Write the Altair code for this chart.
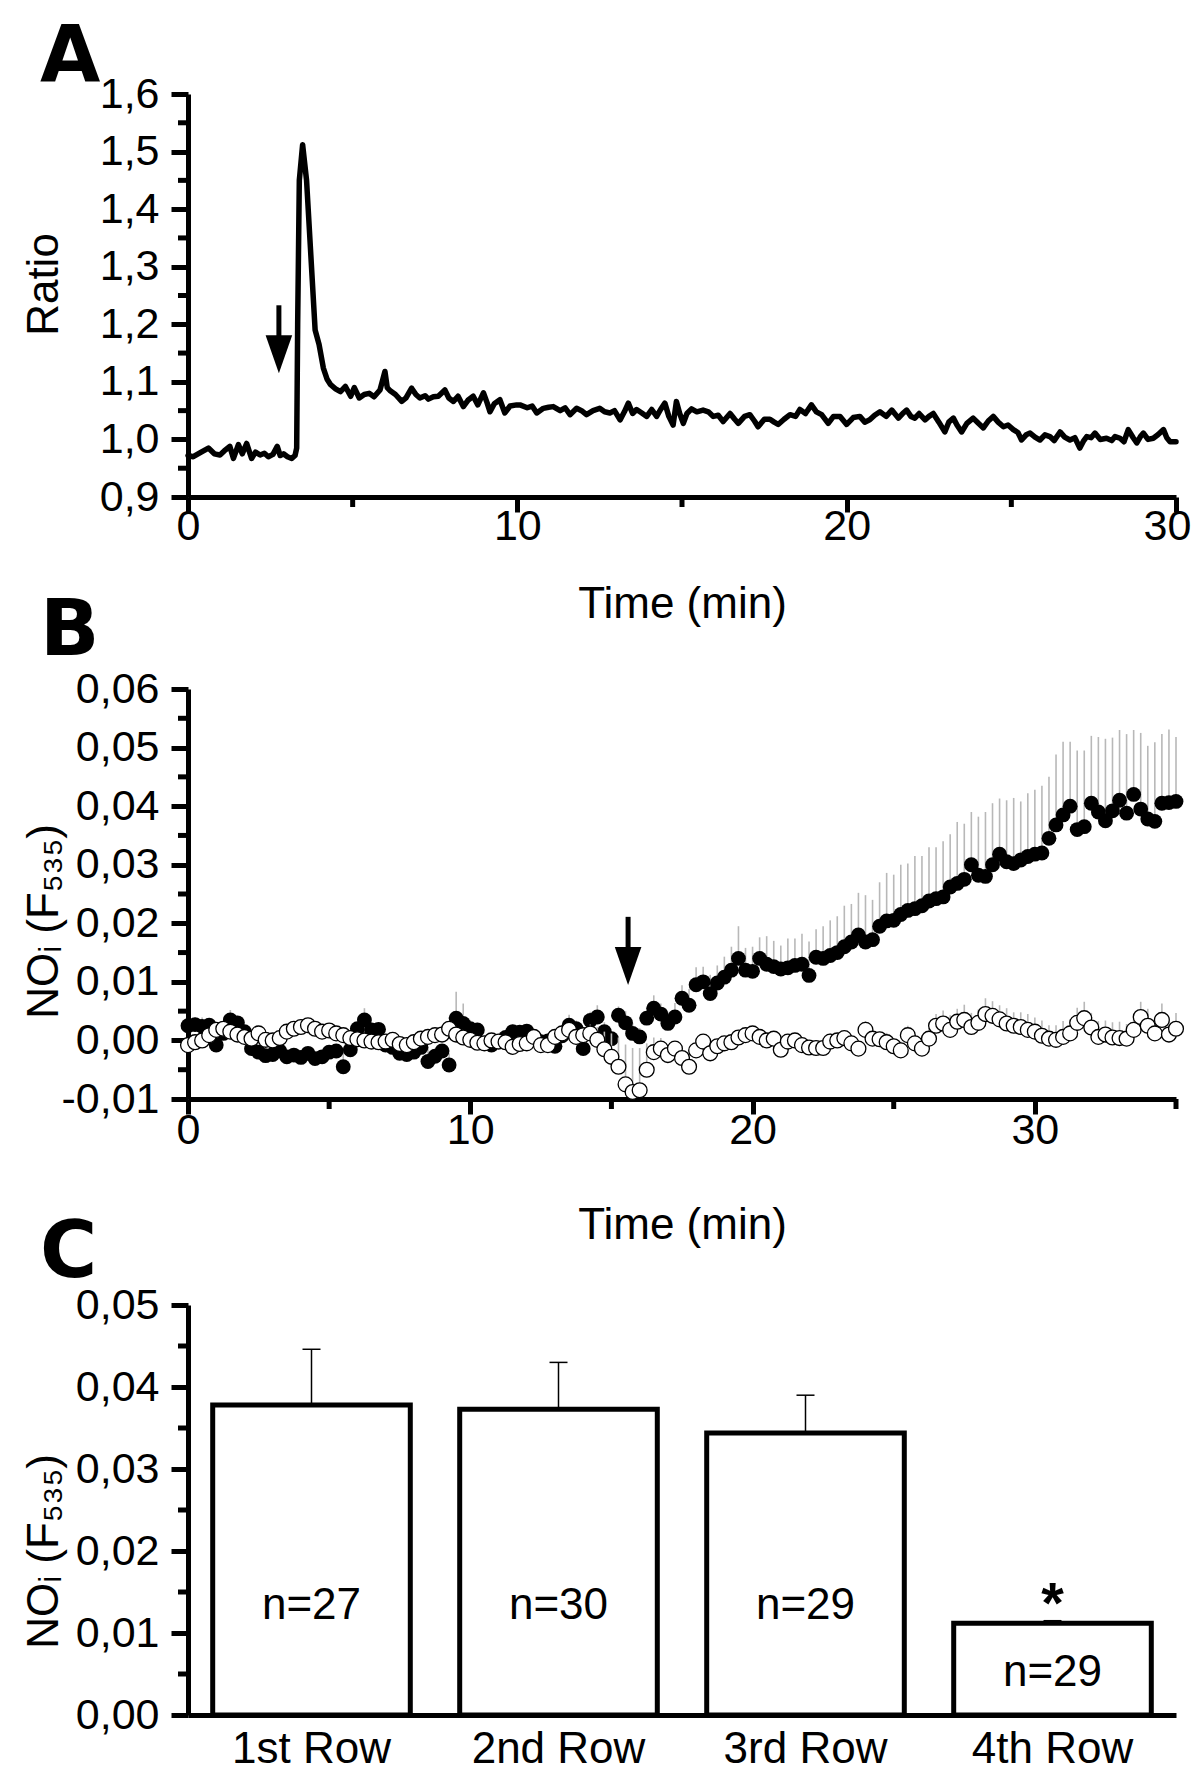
import altair as alt
import pandas as pd

FONT = "Liberation Sans"
LETTER_FONT = "DejaVu Sans"
GREY = "#b8b8b8"
ARROW = "M-0.7,-1L0.7,-1L0,1Z"

# ---------------- Panel A data ----------------
a_time = [0.0, 0.16, 0.4, 0.62, 0.8, 0.97, 1.1, 1.27, 1.38, 1.53, 1.65, 1.78, 1.93, 2.05, 2.19, 2.32, 2.44, 2.58,
          2.71, 2.8, 2.9, 3.02, 3.15, 3.25, 3.3, 3.33, 3.38, 3.48, 3.6, 3.72, 3.86, 3.98, 4.11, 4.22, 4.33, 4.48,
          4.63, 4.78, 4.94, 5.05, 5.2, 5.35, 5.5, 5.65, 5.83, 5.98, 6.05, 6.13, 6.3, 6.49, 6.62, 6.79, 6.92, 7.04,
          7.2, 7.3, 7.45, 7.6, 7.8, 7.92, 8.06, 8.2, 8.36, 8.5, 8.66, 8.8, 8.97, 9.08, 9.17, 9.3, 9.47, 9.62, 9.78,
          9.98, 10.08, 10.3, 10.45, 10.59, 10.79, 10.95, 11.09, 11.3, 11.45, 11.6, 11.8, 11.95, 12.1, 12.3, 12.5,
          12.65, 12.81, 12.95, 13.12, 13.25, 13.37, 13.5, 13.62, 13.78, 13.93, 14.08, 14.23, 14.35, 14.48, 14.6,
          14.73, 14.83, 14.93, 15.04, 15.15, 15.29, 15.45, 15.64, 15.8, 15.95, 16.1, 16.25, 16.46, 16.6, 16.71,
          16.9, 17.06, 17.2, 17.31, 17.5, 17.67, 17.8, 17.92, 18.1, 18.28, 18.45, 18.58, 18.75, 18.93, 19.08,
          19.24, 19.44, 19.6, 19.8, 20.0, 20.2, 20.4, 20.55, 20.7, 20.85, 21.01, 21.2, 21.37, 21.57, 21.7, 21.82,
          21.95, 22.07, 22.2, 22.38, 22.5, 22.63, 22.8, 22.98, 23.1, 23.24, 23.35, 23.49, 23.65, 23.84, 24.0,
          24.15, 24.3, 24.45, 24.6, 24.76, 24.9, 25.06, 25.2, 25.31, 25.45, 25.57, 25.72, 25.87, 26.02, 26.17,
          26.3, 26.48, 26.62, 26.78, 26.93, 27.08, 27.2, 27.29, 27.42, 27.54, 27.7, 27.89, 28.05, 28.15, 28.3,
          28.42, 28.55, 28.7, 28.81, 28.92, 29.01, 29.15, 29.31, 29.45, 29.62, 29.72, 29.82, 30.0]
a_ratio = [0.972, 0.970, 0.978, 0.985, 0.975, 0.973, 0.980, 0.988, 0.967, 0.991, 0.975, 0.993, 0.967, 0.978, 0.973,
           0.976, 0.970, 0.974, 0.988, 0.972, 0.975, 0.970, 0.967, 0.972, 0.985, 1.200, 1.450, 1.512, 1.450, 1.330,
           1.190, 1.165, 1.124, 1.105, 1.095, 1.088, 1.083, 1.092, 1.075, 1.090, 1.072, 1.078, 1.080, 1.074, 1.086,
           1.118, 1.090, 1.085, 1.078, 1.066, 1.072, 1.089, 1.078, 1.072, 1.076, 1.070, 1.074, 1.075, 1.086, 1.072,
           1.066, 1.075, 1.057, 1.068, 1.075, 1.060, 1.081, 1.064, 1.048, 1.062, 1.069, 1.046, 1.058, 1.060, 1.060,
           1.055, 1.058, 1.046, 1.054, 1.056, 1.057, 1.050, 1.055, 1.043, 1.054, 1.050, 1.043, 1.050, 1.054, 1.048,
           1.046, 1.050, 1.034, 1.048, 1.063, 1.045, 1.052, 1.046, 1.040, 1.052, 1.040, 1.052, 1.063, 1.040, 1.025,
           1.066, 1.045, 1.028, 1.045, 1.053, 1.048, 1.051, 1.048, 1.040, 1.042, 1.031, 1.045, 1.035, 1.028, 1.040,
           1.043, 1.032, 1.022, 1.035, 1.035, 1.030, 1.026, 1.035, 1.043, 1.040, 1.052, 1.045, 1.060, 1.048, 1.043,
           1.028, 1.040, 1.040, 1.026, 1.038, 1.040, 1.030, 1.034, 1.042, 1.048, 1.040, 1.051, 1.037, 1.045, 1.051,
           1.040, 1.037, 1.045, 1.034, 1.040, 1.045, 1.030, 1.013, 1.030, 1.037, 1.025, 1.013, 1.028, 1.037, 1.028,
           1.020, 1.032, 1.040, 1.030, 1.022, 1.025, 1.017, 1.012, 0.999, 1.008, 1.011, 1.004, 0.999, 1.008, 1.005,
           0.998, 1.013, 1.004, 0.999, 1.003, 0.985, 0.998, 1.005, 1.003, 1.011, 1.000, 1.002, 0.998, 1.005, 1.002,
           0.996, 1.017, 1.003, 0.994, 1.005, 1.011, 1.000, 1.002, 1.008, 1.017, 1.003, 0.996, 0.996]
a_y_major = [0.9, 1.0, 1.1, 1.2, 1.3, 1.4, 1.5, 1.6]
a_y_minor = [0.95, 1.05, 1.15, 1.25, 1.35, 1.45, 1.55]
a_x_major = [0, 10, 20, 30]
a_x_minor = [5, 15, 25]
a_arrow_time = [2.76]
a_arrow_top = [1.233]
a_arrow_head = [1.148]

# ---------------- Panel B data ----------------
b_time = [0, 0.25, 0.5, 0.75, 1, 1.25, 1.5, 1.75, 2, 2.25, 2.5, 2.75, 3, 3.25, 3.5, 3.75, 4, 4.25, 4.5, 4.75,
          5, 5.25, 5.5, 5.75, 6, 6.25, 6.5, 6.75, 7, 7.25, 7.5, 7.75, 8, 8.25, 8.5, 8.75, 9, 9.25, 9.5, 9.75,
          10, 10.25, 10.5, 10.75, 11, 11.25, 11.5, 11.75, 12, 12.25, 12.5, 12.75, 13, 13.25, 13.5, 13.75,
          14, 14.25, 14.5, 14.75, 15, 15.25, 15.5, 15.75, 16, 16.25, 16.5, 16.75, 17, 17.25, 17.5, 17.75,
          18, 18.25, 18.5, 18.75, 19, 19.25, 19.5, 19.75, 20, 20.25, 20.5, 20.75, 21, 21.25, 21.5, 21.75,
          22, 22.25, 22.5, 22.75, 23, 23.25, 23.5, 23.75, 24, 24.25, 24.5, 24.75, 25, 25.25, 25.5, 25.75,
          26, 26.25, 26.5, 26.75, 27, 27.25, 27.5, 27.75, 28, 28.25, 28.5, 28.75, 29, 29.25, 29.5, 29.75,
          30, 30.25, 30.5, 30.75, 31, 31.25, 31.5, 31.75, 32, 32.25, 32.5, 32.75, 33, 33.25, 33.5, 33.75,
          34, 34.25, 34.5, 34.75, 35]
b_filled = [0.0025, 0.0027, 0.0024, 0.0026, -0.0008, 0.0012, 0.0035, 0.0030, 0.0015, -0.0014, -0.0020, -0.0026,
            -0.0024, -0.0018, -0.0028, -0.0025, -0.0029, -0.0022, -0.0031, -0.0028, -0.0020, -0.0018, -0.0045,
            -0.0016, 0.0020, 0.0035, 0.0018, 0.0019, -0.0008, -0.0012, -0.0022, -0.0024, -0.0020, -0.0012,
            -0.0036, -0.0027, -0.0018, -0.0042, 0.0038, 0.0029, 0.0020, 0.0018, -0.0005, -0.0008, -0.0002,
            0.0005, 0.0015, 0.0014, 0.0016, 0.0002, -0.0002, -0.0001, -0.0010, 0.0008, 0.0026, 0.0020, -0.0014,
            0.0034, 0.0040, 0.0015, 0.0003, 0.0043, 0.0030, 0.0012, 0.0006, 0.0038, 0.0055, 0.0045, 0.0029,
            0.0040, 0.0072, 0.0060, 0.0095, 0.0100, 0.0080, 0.0098, 0.0108, 0.0120, 0.0140, 0.0120, 0.0118,
            0.0140, 0.0130, 0.0126, 0.0122, 0.0124, 0.0128, 0.0130, 0.0111, 0.0142, 0.0140, 0.0145, 0.0150,
            0.0160, 0.0168, 0.0180, 0.0168, 0.0172, 0.0195, 0.0204, 0.0205, 0.0215, 0.0222, 0.0225, 0.0230,
            0.0238, 0.0242, 0.0245, 0.0262, 0.0268, 0.0275, 0.0300, 0.0282, 0.0280, 0.0300, 0.0318, 0.0305,
            0.0302, 0.0308, 0.0314, 0.0318, 0.0320, 0.0345, 0.0368, 0.0385, 0.0400, 0.0360, 0.0365, 0.0405,
            0.0390, 0.0375, 0.0392, 0.0410, 0.0388, 0.0420, 0.0395, 0.0378, 0.0374, 0.0405, 0.0406, 0.0408]
b_filled_sem = [0.0010, 0.0012, 0.0015, 0.0008, 0.0006, 0.0010, 0.0017, 0.0012, 0.0008, 0.0006, 0.0010, 0.0008,
                0.0007, 0.0010, 0.0012, 0.0009, 0.0011, 0.0008, 0.0010, 0.0009, 0.0012, 0.0010, 0.0030, 0.0008,
                0.0010, 0.0020, 0.0012, 0.0009, 0.0008, 0.0011, 0.0009, 0.0010, 0.0010, 0.0012, 0.0025, 0.0013,
                0.0010, 0.0020, 0.0045, 0.0034, 0.0015, 0.0012, 0.0008, 0.0010, 0.0009, 0.0011, 0.0012, 0.0010,
                0.0012, 0.0009, 0.0010, 0.0008, 0.0011, 0.0012, 0.0018, 0.0014, 0.0010, 0.0015, 0.0020, 0.0016,
                0.0012, 0.0015, 0.0020, 0.0018, 0.0015, 0.0020, 0.0022, 0.0018, 0.0020, 0.0024, 0.0022, 0.0028,
                0.0030, 0.0026, 0.0032, 0.0030, 0.0035, 0.0040, 0.0055, 0.0038, 0.0042, 0.0036, 0.0048, 0.0044,
                0.0040, 0.0050, 0.0046, 0.0052, 0.0058, 0.0048, 0.0055, 0.0060, 0.0062, 0.0070, 0.0065, 0.0072,
                0.0080, 0.0068, 0.0075, 0.0082, 0.0078, 0.0085, 0.0080, 0.0090, 0.0085, 0.0092, 0.0088, 0.0095,
                0.0090, 0.0105, 0.0095, 0.0090, 0.0100, 0.0110, 0.0105, 0.0095, 0.0105, 0.0112, 0.0100, 0.0108,
                0.0110, 0.0115, 0.0105, 0.0120, 0.0125, 0.0110, 0.0135, 0.0130, 0.0115, 0.0128, 0.0140, 0.0125,
                0.0120, 0.0135, 0.0110, 0.0130, 0.0125, 0.0135, 0.0118, 0.0125, 0.0110]
b_open = [-0.0008, -0.0003, 0.0000, 0.0009, 0.0018, 0.0020, 0.0015, 0.0010, 0.0006, 0.0003, 0.0012, 0.0001,
          0.0000, 0.0004, 0.0015, 0.0020, 0.0023, 0.0026, 0.0020, 0.0015, 0.0017, 0.0012, 0.0009, 0.0004,
          0.0002, 0.0000, -0.0002, -0.0003, -0.0002, 0.0001, -0.0006, -0.0008, -0.0003, 0.0003, 0.0006, 0.0009,
          0.0010, 0.0020, 0.0010, 0.0005, 0.0001, -0.0004, -0.0005, 0.0000, -0.0002, -0.0003, -0.0011, -0.0006,
          -0.0005, 0.0006, -0.0008, -0.0008, 0.0006, 0.0012, 0.0018, 0.0006, 0.0009, 0.0012, 0.0001, -0.0015,
          -0.0028, -0.0045, -0.0075, -0.0088, -0.0085, -0.0050, -0.0020, -0.0014, -0.0025, -0.0014, -0.0030,
          -0.0045, -0.0017, -0.0002, -0.0022, -0.0010, -0.0005, -0.0003, 0.0005, 0.0009, 0.0012, 0.0006,
          0.0000, 0.0003, -0.0016, -0.0002, 0.0000, -0.0008, -0.0012, -0.0013, -0.0013, -0.0002, 0.0000,
          0.0004, -0.0005, -0.0014, 0.0018, 0.0003, 0.0002, -0.0003, -0.0010, -0.0017, 0.0009, -0.0005,
          -0.0014, 0.0003, 0.0025, 0.0029, 0.0018, 0.0032, 0.0035, 0.0023, 0.0030, 0.0045, 0.0042, 0.0036,
          0.0029, 0.0025, 0.0023, 0.0018, 0.0015, 0.0008, 0.0003, 0.0001, 0.0006, 0.0012, 0.0030, 0.0038,
          0.0022, 0.0006, 0.0010, 0.0005, 0.0004, 0.0003, 0.0018, 0.0040, 0.0025, 0.0012, 0.0035, 0.0010,
          0.0020]
b_open_sem = [0.0010, 0.0008, 0.0012, 0.0009, 0.0008, 0.0011, 0.0009, 0.0010, 0.0008, 0.0009, 0.0007, 0.0010,
              0.0009, 0.0008, 0.0010, 0.0012, 0.0010, 0.0008, 0.0009, 0.0011, 0.0009, 0.0010, 0.0012, 0.0008,
              0.0010, 0.0009, 0.0008, 0.0010, 0.0011, 0.0009, 0.0008, 0.0010, 0.0009, 0.0010, 0.0012, 0.0009,
              0.0010, 0.0008, 0.0011, 0.0009, 0.0008, 0.0010, 0.0009, 0.0008, 0.0010, 0.0009, 0.0011, 0.0008,
              0.0009, 0.0010, 0.0008, 0.0010, 0.0009, 0.0011, 0.0010, 0.0012, 0.0011, 0.0015, 0.0022, 0.0030,
              0.0040, 0.0050, 0.0068, 0.0075, 0.0072, 0.0045, 0.0025, 0.0018, 0.0015, 0.0012, 0.0014, 0.0016,
              0.0012, 0.0010, 0.0011, 0.0012, 0.0010, 0.0011, 0.0009, 0.0012, 0.0010, 0.0011, 0.0012, 0.0010,
              0.0012, 0.0011, 0.0013, 0.0012, 0.0011, 0.0013, 0.0012, 0.0014, 0.0013, 0.0012, 0.0014, 0.0013,
              0.0015, 0.0014, 0.0013, 0.0016, 0.0014, 0.0015, 0.0016, 0.0014, 0.0015, 0.0018, 0.0020, 0.0022,
              0.0025, 0.0022, 0.0026, 0.0024, 0.0023, 0.0027, 0.0025, 0.0024, 0.0026, 0.0023, 0.0025, 0.0027,
              0.0024, 0.0026, 0.0023, 0.0025, 0.0027, 0.0024, 0.0026, 0.0028, 0.0025, 0.0027, 0.0024, 0.0026,
              0.0028, 0.0025, 0.0027, 0.0026, 0.0029, 0.0026, 0.0028, 0.0025, 0.0027]
b_y_major = [-0.01, 0.0, 0.01, 0.02, 0.03, 0.04, 0.05, 0.06]
b_y_minor = [-0.005, 0.005, 0.015, 0.025, 0.035, 0.045, 0.055]
b_x_major = [0, 10, 20, 30]
b_x_minor = [5, 15, 25, 35]
b_arrow_time = [15.59]
b_arrow_top = [0.0211]
b_arrow_head = [0.0127]

# ---------------- Panel C data ----------------
c_rows = ["1st Row", "2nd Row", "3rd Row", "4th Row"]
c_mean = [0.0378, 0.0373, 0.0344, 0.0112]
c_sem = [0.0068, 0.0057, 0.0046, 0.0003]
c_n = ["n=27", "n=30", "n=29", "n=29"]
c_n_y = [0.0133, 0.0133, 0.0133, 0.0051]
c_star_row = ["4th Row"]
c_star_y = [0.0112]
c_y_major = [0.0, 0.01, 0.02, 0.03, 0.04, 0.05]
c_y_minor = [0.005, 0.015, 0.025, 0.035, 0.045]

W = 988
HA = 403
HB = 410
HB_BOX = 424
HC = 410
YMAJ = 17
XMAJ = 15
MIN = 10
LW = 5
Y_TITLE = "NO\u1d62 (F\u2085\u2083\u2085)"


def comma_expr(fmt):
    return "replace(replace(format(datum.value, '" + fmt + "'), '.', ','), '\u2212', '-')"


def y_axis(values, fmt, title, title_y):
    return alt.Axis(values=values, labelExpr=comma_expr(fmt), title=title, titleX=-131, titleY=title_y,
                    titleBaseline="alphabetic", tickSize=YMAJ, labelPadding=12, labelFlush=False)


def x_axis(values, title_y, pad, offset=0, last_shift=None):
    kw = dict(values=values, format="d", title="Time (min)", titleY=title_y,
              titleBaseline="alphabetic", tickSize=XMAJ, labelPadding=pad, offset=offset,
              labelFlush=False)
    if last_shift is not None:
        # keep the right-most label inside the page
        kw["labelOffset"] = {"condition": {"test": "datum.value === %d" % last_shift[0], "value": last_shift[1]},
                             "value": 0}
    return alt.Axis(**kw)


def letter(txt, dy):
    return alt.Chart(pd.DataFrame({"s": [txt]})).mark_text(
        font=LETTER_FONT, fontSize=78, fontWeight="bold", align="left", baseline="alphabetic", color="black"
    ).encode(text="s:N", x=alt.value(-148), y=alt.value(dy))


def minor_y(vals, field, ax, sc):
    return alt.Chart(pd.DataFrame({field: vals})).mark_rule(color="black", strokeWidth=LW).encode(
        y=alt.Y(field + ":Q", axis=ax, scale=sc), x=alt.value(-MIN), x2=alt.value(0))


def minor_x(vals, field, ax, sc, ypos):
    return alt.Chart(pd.DataFrame({field: vals})).mark_rule(color="black", strokeWidth=LW).encode(
        x=alt.X(field + ":Q", axis=ax, scale=sc), y=alt.value(ypos), y2=alt.value(ypos + MIN))


def arrow(times, tops, heads, xax, xsc, yax, ysc):
    df = pd.DataFrame({"t": times, "top": tops, "head": heads})
    shaft = alt.Chart(df).mark_rule(color="black", strokeWidth=5).encode(
        x=alt.X("t:Q", axis=xax, scale=xsc), y=alt.Y("top:Q", axis=yax, scale=ysc), y2="head:Q")
    head = alt.Chart(df).mark_point(shape=ARROW, filled=True, size=1444, color="black", opacity=1).encode(
        x=alt.X("t:Q", axis=xax, scale=xsc), y=alt.Y("head:Q", axis=yax, scale=ysc))
    return [shaft, head]


# ---------------- Panel A ----------------
xA_ax = x_axis(a_x_major, 120, -7, 0, (30, -9))
xA_sc = alt.Scale(domain=[0, 30], nice=False, zero=False)
yA_ax = y_axis(a_y_major, ".1f", "Ratio", 190)
yA_sc = alt.Scale(domain=[0.9, 1.6], nice=False, zero=False)
dfA = pd.DataFrame({"t": a_time, "ratio": a_ratio})
lineA = alt.Chart(dfA).mark_line(color="black", strokeWidth=5.5, strokeJoin="round", strokeCap="round").encode(
    x=alt.X("t:Q", scale=xA_sc, axis=xA_ax), y=alt.Y("ratio:Q", scale=yA_sc, axis=yA_ax))
# invisible layout anchor fixing the top-left corner of the figure
anchor = alt.Chart(pd.DataFrame({"s": [0]})).mark_rule(color="white", opacity=0, strokeWidth=0).encode(
    x=alt.value(-180), x2=alt.value(-180), y=alt.value(-86), y2=alt.value(-86))
panelA = alt.layer(
    lineA, minor_y(a_y_minor, "ratio", yA_ax, yA_sc), minor_x(a_x_minor, "t", xA_ax, xA_sc, HA),
    *arrow(a_arrow_time, a_arrow_top, a_arrow_head, xA_ax, xA_sc, yA_ax, yA_sc),
    letter("A", -13), anchor
).properties(width=W, height=HA)

# ---------------- Panel B ----------------
xB_ax = x_axis(b_x_major, 139, -5, -(HB_BOX - HB))
xB_sc = alt.Scale(domain=[0, 35], nice=False, zero=False)
yB_ax = y_axis(b_y_major, ".2f", Y_TITLE, 232)
yB_sc = alt.Scale(domain=[-0.01, 0.06], range=[HB, 0], nice=False, zero=False)
dfBf = pd.DataFrame({"t": b_time, "v": b_filled, "sem": b_filled_sem})
dfBo = pd.DataFrame({"t": b_time, "v": b_open, "sem": b_open_sem})
xB = alt.X("t:Q", scale=xB_sc, axis=xB_ax)
yB = alt.Y("v:Q", scale=yB_sc, axis=yB_ax)
filled_err = alt.Chart(dfBf).transform_calculate(top="datum.v + datum.sem").mark_rule(
    color=GREY, strokeWidth=1.6).encode(x=xB, y=yB, y2="top:Q")
filled_pts = alt.Chart(dfBf).mark_circle(size=220, color="black", opacity=1).encode(x=xB, y=yB)
open_err = alt.Chart(dfBo).transform_calculate(top="datum.v + datum.sem").mark_rule(
    color=GREY, strokeWidth=1.6).encode(x=xB, y=yB, y2="top:Q")
open_pts = alt.Chart(dfBo).mark_circle(size=220, fill="white", stroke="black", strokeWidth=1.3, opacity=1).encode(
    x=xB, y=yB)
panelB = alt.layer(
    filled_err, filled_pts, open_err, open_pts,
    minor_y(b_y_minor, "v", yB_ax, yB_sc), minor_x(b_x_minor, "t", xB_ax, xB_sc, HB),
    *arrow(b_arrow_time, b_arrow_top, b_arrow_head, xB_ax, xB_sc, yB_ax, yB_sc), letter("B", -34)
).properties(width=W, height=HB_BOX)

# ---------------- Panel C ----------------
xC_ax = alt.Axis(title=None, labelAngle=0, ticks=False, labelFontSize=44, labelPadding=12)
xC_sc = alt.Scale(paddingInner=0.2, paddingOuter=0.1)
yC_ax = y_axis(c_y_major, ".2f", Y_TITLE, 246)
yC_sc = alt.Scale(domain=[0, 0.05], nice=False)
dfC = pd.DataFrame({"row": c_rows, "mean": c_mean, "sem": c_sem, "n": c_n, "ny": c_n_y})
xC = alt.X("row:N", sort=c_rows, scale=xC_sc, axis=xC_ax)
bars = alt.Chart(dfC).mark_bar(fill="white", stroke="black", strokeWidth=5).encode(
    x=xC, y=alt.Y("mean:Q", scale=yC_sc, axis=yC_ax))
errC = alt.Chart(dfC).transform_calculate(top="datum.mean + datum.sem").mark_rule(
    color="black", strokeWidth=1.5).encode(x=xC, y=alt.Y("mean:Q", scale=yC_sc, axis=yC_ax), y2="top:Q")
capC = alt.Chart(dfC).transform_calculate(top="datum.mean + datum.sem").mark_tick(
    color="black", thickness=1.5, size=18, opacity=1).encode(x=xC, y=alt.Y("top:Q", scale=yC_sc, axis=yC_ax))
nText = alt.Chart(dfC).mark_text(font=FONT, fontSize=44, color="black", baseline="middle").encode(
    x=xC, y=alt.Y("ny:Q", scale=yC_sc, axis=yC_ax), text="n:N")
star = alt.Chart(pd.DataFrame({"row": c_star_row, "sy": c_star_y, "s": ["*"]})).mark_text(
    font=FONT, fontSize=58, fontWeight="bold", color="black", baseline="alphabetic").encode(
    x=xC, y=alt.Y("sy:Q", scale=yC_sc, axis=yC_ax), text="s:N")
panelC = alt.layer(
    bars, errC, capC, nText, star, minor_y(c_y_minor, "mean", yC_ax, yC_sc), letter("C", -28)
).properties(width=W, height=HC)

chart = alt.vconcat(panelA, panelB, panelC, spacing=192, bounds="flush").properties(
    padding={"left": 0, "top": 0, "right": 0, "bottom": 0}
).configure_view(strokeWidth=0).configure_axis(
    labelFont=FONT, titleFont=FONT, labelFontSize=43, titleFontSize=44, titleFontWeight="normal",
    labelColor="black", titleColor="black", domainColor="black", tickColor="black",
    domainWidth=LW, tickWidth=LW, grid=False
)

chart.save("out.html", embed_options={"renderer": "svg", "actions": False})
